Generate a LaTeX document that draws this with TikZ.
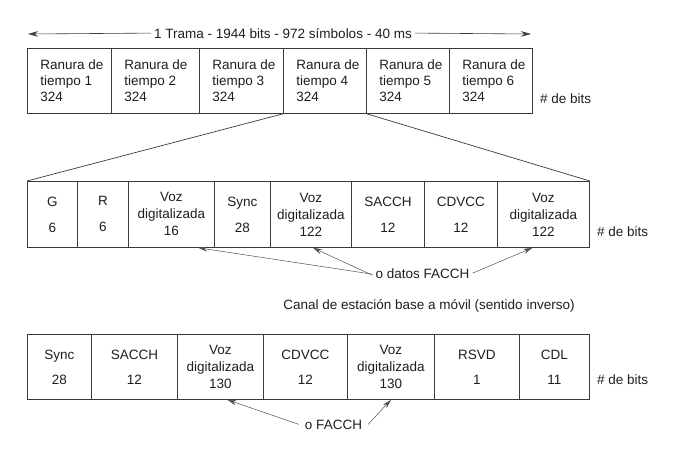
\documentclass[tikz,border=0pt]{standalone}
\usepackage{fontspec}
\setmainfont{Liberation Sans}
\usetikzlibrary{arrows.meta,calc}
\definecolor{txt}{HTML}{1E1E1E}
\definecolor{brd}{HTML}{3A3A3A}
\definecolor{arr}{HTML}{505050}
\begin{document}
\begin{tikzpicture}[x=1pt,y=-1pt,
  every node/.style={font=\fontsize{13.5}{16}\selectfont, text=txt},
  topcell/.style={draw=brd, line width=0.8pt, anchor=north west, minimum height=65pt,
     inner xsep=0pt, inner ysep=0pt, align=left},
  cell/.style={draw=brd, line width=0.8pt, anchor=north west, minimum height=66pt,
     inner sep=0pt, align=center, font=\fontsize{13.5}{17}\selectfont},
  plain/.style={inner sep=0pt},
  lbl/.style={inner xsep=3pt, inner ysep=2pt},
  fline/.style={draw=arr, line width=0.5pt, -{Stealth[length=9pt,width=5pt]}},
  bigarrow/.style={draw=brd, line width=0.6pt, -{Stealth[length=10pt,width=5.5pt]}},
  zoomline/.style={draw=brd, line width=0.7pt}
]
\useasboundingbox (0,0) rectangle (691,453);

% --- top frame ---
\node[lbl, anchor=base] (title) at (283,38) {1 Trama - 1944 bits - 972 símbolos - 40 ms};
\coordinate (tl) at (28,34);
\coordinate (tr) at (531,34);
\draw[bigarrow] (title.west) -- (tl);
\draw[bigarrow] (title.east) -- (tr);

\node[topcell, minimum width=84pt] (a1) at (27,48) {\hspace*{12pt}\parbox[c]{70pt}{\raggedright Ranura de\\tiempo 1\\324}};
\node[topcell, minimum width=88pt] (a2) at (111,48) {\hspace*{12pt}\parbox[c]{74pt}{\raggedright Ranura de\\tiempo 2\\324}};
\node[topcell, minimum width=84pt] (a3) at (199,48) {\hspace*{12pt}\parbox[c]{70pt}{\raggedright Ranura de\\tiempo 3\\324}};
\node[topcell, minimum width=83pt] (a4) at (283,48) {\hspace*{12pt}\parbox[c]{69pt}{\raggedright Ranura de\\tiempo 4\\324}};
\node[topcell, minimum width=83pt] (a5) at (366,48) {\hspace*{12pt}\parbox[c]{69pt}{\raggedright Ranura de\\tiempo 5\\324}};
\node[topcell, minimum width=83pt] (a6) at (449,48) {\hspace*{12pt}\parbox[c]{69pt}{\raggedright Ranura de\\tiempo 6\\324}};
\node[plain, anchor=base west] (bitsA) at (540,103) {\# de bits};

% --- middle frame ---
\node[cell, minimum width=50pt] (b1) at (27,181) {G\\[9pt]6};
\node[cell, minimum width=51pt] (b2) at (77,181) {R\\[9pt]6};
\node[cell, minimum width=86pt] (b3) at (128,181) {Voz\\digitalizada\\16};
\node[cell, minimum width=56pt] (b4) at (214,181) {Sync\\[9pt]28};
\node[cell, minimum width=81pt] (b5) at (270,181) {Voz\\digitalizada\\122};
\node[cell, minimum width=73pt] (b6) at (351,181) {SACCH\\[9pt]12};
\node[cell, minimum width=73pt] (b7) at (424,181) {CDVCC\\[9pt]12};
\node[cell, minimum width=92pt] (b8) at (497,181) {Voz\\digitalizada\\122};
\node[plain, anchor=base west] (bitsB) at (597,236) {\# de bits};

\draw[zoomline] (a4.south west) -- (b1.north west);
\draw[zoomline] (a4.south east) -- (b8.north east);

\node[lbl, anchor=base] (fac) at (422.5,278) {o datos FACCH};
\draw[fline] ([yshift=-1pt]fac.west) -- ([xshift=27pt]b3.south);
\draw[fline] ([yshift=-2pt]fac.west) -- ([xshift=2pt]b5.south);
\draw[fline] (fac.east) -- ([xshift=-11pt]b8.south);

\node[plain, anchor=base] (canal) at (429,309) {Canal de estación base a móvil (sentido inverso)};

% --- bottom frame ---
\node[cell, minimum width=64pt, minimum height=65pt] (c1) at (27,334) {Sync\\[8pt]28};
\node[cell, minimum width=86pt, minimum height=65pt] (c2) at (91,334) {SACCH\\[8pt]12};
\node[cell, minimum width=86pt, minimum height=65pt] (c3) at (177,334) {Voz\\digitalizada\\130};
\node[cell, minimum width=84pt, minimum height=65pt] (c4) at (263,334) {CDVCC\\[8pt]12};
\node[cell, minimum width=87pt, minimum height=65pt] (c5) at (347,334) {Voz\\digitalizada\\130};
\node[cell, minimum width=85pt, minimum height=65pt] (c6) at (434,334) {RSVD\\[8pt]1};
\node[cell, minimum width=70pt, minimum height=65pt] (c7) at (519,334) {CDL\\[8pt]11};
\node[plain, anchor=base west] (bitsC) at (597,384) {\# de bits};

\node[lbl, anchor=base, inner xsep=6pt] (fac2) at (333.5,429) {o FACCH};
\draw[fline] (fac2.west) -- ([xshift=7pt]c3.south);
\draw[fline] (fac2.east) -- (c5.south);
\end{tikzpicture}
\end{document}
